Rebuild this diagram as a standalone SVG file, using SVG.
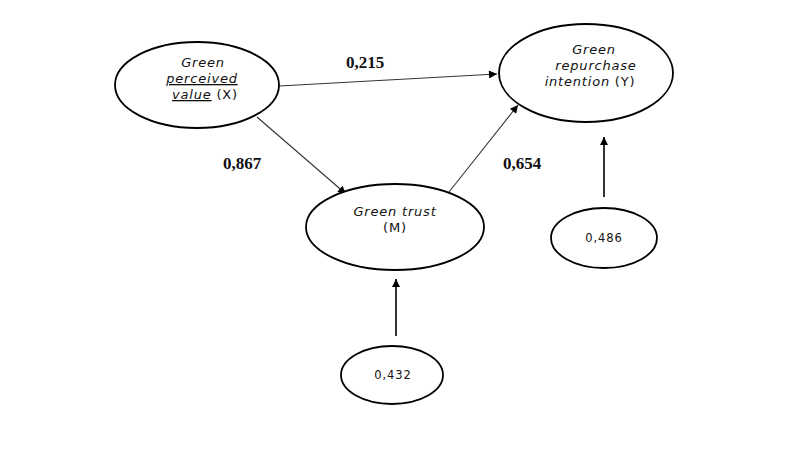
<svg xmlns="http://www.w3.org/2000/svg" width="804" height="465" viewBox="0 0 804 465">
<style>
.n{fill:#fff;stroke:#000;stroke-width:1.8}
.t{font-family:"DejaVu Sans","Open Sans",sans-serif;font-size:13px;letter-spacing:0.8px;text-anchor:middle;fill:#111}
.i{font-style:italic}
.u{text-decoration:underline;text-decoration-style:dotted}
.s{font-family:"DejaVu Sans","Open Sans",sans-serif;font-size:11.5px;letter-spacing:0.9px;text-anchor:middle;fill:#111}
.c{font-family:"Liberation Serif","DejaVu Serif",serif;font-size:17px;font-weight:bold;text-anchor:middle;fill:#111}
.e{stroke:#333;stroke-width:1.1;fill:none;marker-end:url(#a)}
.e2{stroke:#000;stroke-width:1.6;fill:none;marker-end:url(#a)}
</style>
<defs>
<marker id="a" viewBox="0 0 10 10" refX="10" refY="5" markerWidth="10" markerHeight="8" markerUnits="userSpaceOnUse" orient="auto">
<path d="M0,0 L10,5 L0,10 z" fill="#000"/>
</marker>
</defs>
<rect width="804" height="465" fill="#fff"/>
<g id="connectors">
<line class="e" x1="279" y1="86" x2="497" y2="74"/>
<line class="e" x1="257" y1="117" x2="346" y2="194"/>
<line class="e" x1="449" y1="192" x2="518" y2="105"/>
<line class="e2" x1="604" y1="197" x2="604" y2="137"/>
<line class="e2" x1="396" y1="336" x2="396" y2="279"/>
<text class="c" x="365" y="68">0,215</text>
<text class="c" x="242" y="169">0,867</text>
<text class="c" x="522" y="169">0,654</text>
</g>
<g id="X">
<ellipse class="n" cx="197" cy="85" rx="82" ry="43"/>
<text class="t i" x="203" y="67">Green</text>
<text class="t i u" x="202" y="83">perceived</text>
<text class="t" x="205" y="99"><tspan class="i u">value</tspan> (X)</text>
</g>
<g id="Y">
<ellipse class="n" cx="586" cy="73" rx="87" ry="49"/>
<text class="t i" x="594" y="54">Green</text>
<text class="t i" x="596" y="70">repurchase</text>
<text class="t" x="590" y="86"><tspan class="i">intention</tspan> (Y)</text>
</g>
<g id="M">
<ellipse class="n" cx="395" cy="227" rx="89" ry="43"/>
<text class="t i" x="395" y="216">Green trust</text>
<text class="t" x="395" y="232">(M)</text>
</g>
<g id="eY">
<ellipse class="n" cx="604" cy="238" rx="53" ry="30"/>
<text class="s" x="604" y="242">0,486</text>
</g>
<g id="eM">
<ellipse class="n" cx="392" cy="375" rx="51" ry="29"/>
<text class="s" x="393" y="379">0,432</text>
</g>
</svg>
